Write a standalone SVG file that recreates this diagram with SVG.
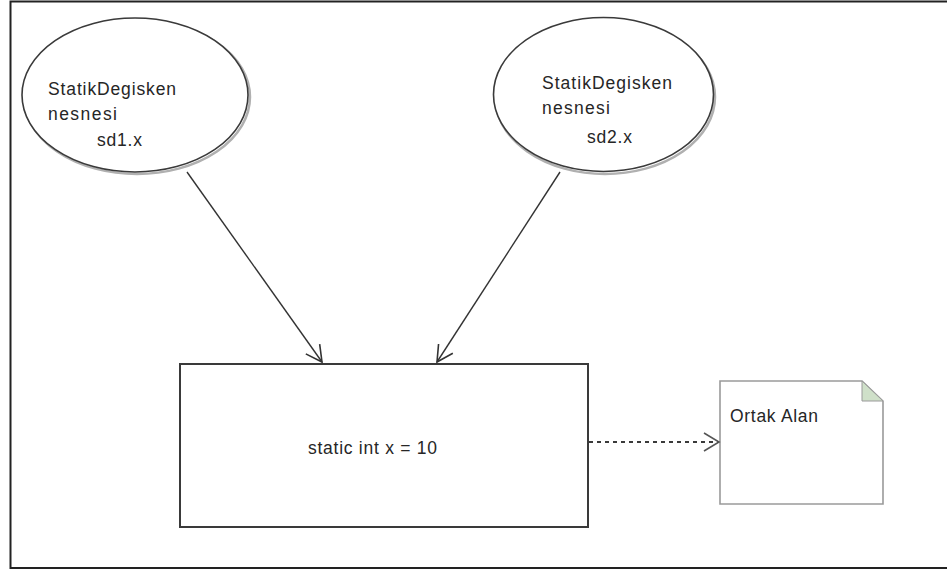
<svg xmlns="http://www.w3.org/2000/svg" width="947" height="571" viewBox="0 0 947 571">
<style>
  .t { font-family: "Liberation Sans", Arial, sans-serif; font-size: 17.5px; fill: #262626; }
  .ell { fill: #ffffff; stroke: #3a3a3a; stroke-width: 1.6; }
  .shadow { fill: none; stroke: #b0b0b0; stroke-width: 2.5; }
  .conn { stroke: #333333; stroke-width: 1.4; fill: none; }
  .dash { stroke: #3a3a3a; stroke-width: 1.8; fill: none; stroke-dasharray: 4 4; }
</style>
<defs>
  <marker id="open" markerUnits="userSpaceOnUse" markerWidth="20" markerHeight="20" refX="0" refY="0" viewBox="-18 -10 20 20" orient="auto">
    <path d="M-16,-8.5 L0,0 L-16,8.5" fill="none" stroke="#333333" stroke-width="1.6"/>
  </marker>
  <marker id="open2" markerUnits="userSpaceOnUse" markerWidth="20" markerHeight="20" refX="0" refY="0" viewBox="-18 -10 20 20" orient="auto">
    <path d="M-15,-9 L0,0 L-15,9" fill="none" stroke="#555555" stroke-width="1.6"/>
  </marker>
</defs>
<rect x="0" y="0" width="947" height="571" fill="#ffffff"/>
<path d="M947,1.5 H10.5 V568 H947" fill="none" stroke="#222222" stroke-width="2"/>

<g id="node-sd1">
  <ellipse class="shadow" cx="137" cy="97" rx="113" ry="77"/>
  <ellipse class="ell" cx="135" cy="95" rx="113" ry="77"/>
  <text class="t" x="48" y="95" textLength="128" lengthAdjust="spacing">StatikDegisken</text>
  <text class="t" x="48" y="120" textLength="69" lengthAdjust="spacing">nesnesi</text>
  <text class="t" x="97" y="146" textLength="45" lengthAdjust="spacing">sd1.x</text>
</g>

<g id="node-sd2">
  <ellipse class="shadow" cx="605" cy="97" rx="110" ry="77"/>
  <ellipse class="ell" cx="603.5" cy="94.5" rx="110" ry="77"/>
  <text class="t" x="542" y="89" textLength="130" lengthAdjust="spacing">StatikDegisken</text>
  <text class="t" x="542" y="114" textLength="68" lengthAdjust="spacing">nesnesi</text>
  <text class="t" x="587" y="143" textLength="45" lengthAdjust="spacing">sd2.x</text>
</g>

<g id="node-static">
  <rect x="180" y="364" width="408" height="163" fill="#ffffff" stroke="#3a3a3a" stroke-width="2"/>
  <text class="t" x="308" y="454" textLength="129" lengthAdjust="spacing">static int x = 10</text>
</g>

<g id="node-note">
  <path d="M720,381 H862 L883,401 V504 H720 Z" fill="#ffffff" stroke="#9a9a9a" stroke-width="1.6"/>
  <path d="M862,381 L883,401 H862 Z" fill="#cfe0c9" stroke="#9a9a9a" stroke-width="1"/>
  <text class="t" x="730" y="422" textLength="88" lengthAdjust="spacing">Ortak Alan</text>
</g>

<g id="connectors">
  <line class="conn" x1="187" y1="172" x2="322" y2="362" marker-end="url(#open)"/>
  <line class="conn" x1="560" y1="172" x2="437" y2="362" marker-end="url(#open)"/>
  <line class="dash" x1="589" y1="442" x2="719" y2="442" marker-end="url(#open2)"/>
</g>
</svg>
